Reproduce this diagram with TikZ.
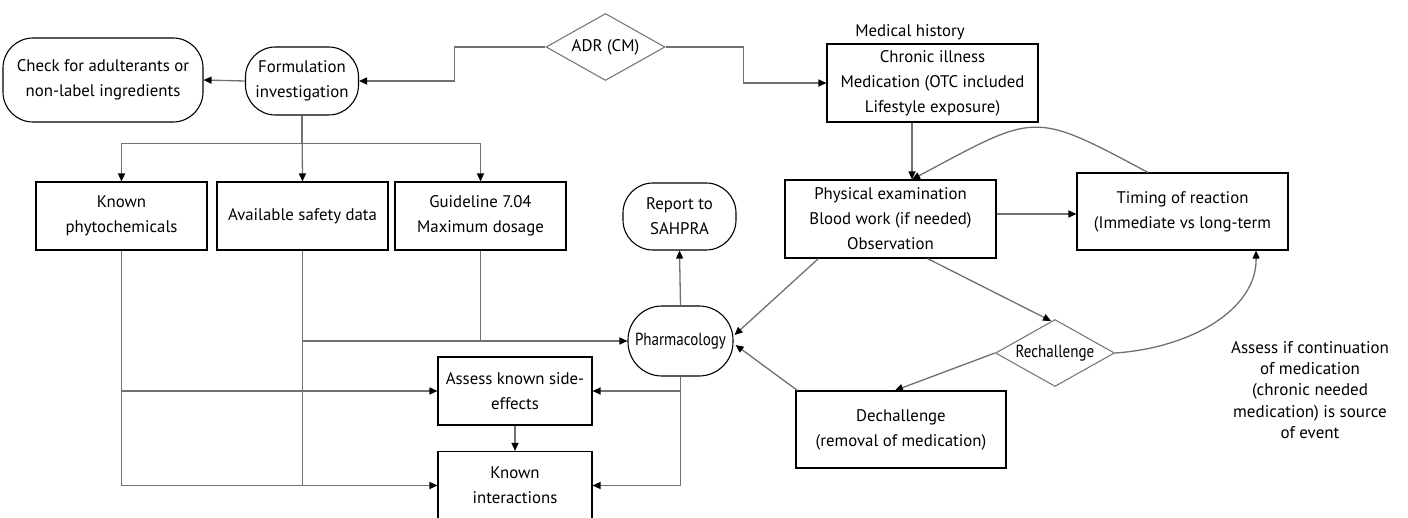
\documentclass[tikz,border=0pt]{standalone}
\usepackage{fontspec}
\setmainfont{PT Sans}
\newfontfamily\narrowf{PT Sans}[FakeStretch=0.86]
\usetikzlibrary{arrows.meta,shapes.geometric,calc}
\definecolor{lncol}{RGB}{112,112,112}
\definecolor{dgcol}{RGB}{120,120,120}
\begin{document}
\begin{tikzpicture}[x=1pt,y=-1pt,
  box/.style={draw=black, line width=1.1pt, align=center, inner sep=0pt,
    font=\fontsize{16.8}{25}\selectfont},
  rbox/.style={box, rounded corners=30pt},
  dia/.style={diamond, draw=dgcol, line width=1.1pt, aspect=1.78, inner sep=0pt,
    minimum width=119, minimum height=67},
  plain/.style={align=center, inner sep=0pt, font=\fontsize{16.8}{25}\selectfont},
  ln/.style={draw=lncol, line width=1.3pt},
  conn/.style={ln, -{Triangle[length=8pt,width=7pt,color=black,fill=black]}}
]
\useasboundingbox (0,0) rectangle (1408,518);

% nodes
\node[rbox, minimum width=200, minimum height=84] (check) at (103,80) {Check for adulterants or\\non-label ingredients};
\node[rbox, minimum width=113, minimum height=68] (form) at (302,81) {Formulation\\investigation};
\node[dia, font=\fontsize{16.8}{25}\selectfont] (adr) at (605.5,47) {ADR (CM)};
\node[plain] (mh) at (910,32) {Medical history};
\node[box, minimum width=211, minimum height=78] (med) at (932.5,83) {Chronic illness\\Medication (OTC included\\Lifestyle exposure)};
\node[box, minimum width=211, minimum height=78] (phys) at (890.5,219) {Physical examination\\Blood work (if needed)\\Observation};
\node[box, minimum width=211, minimum height=77] (timing) at (1182.5,211.5) {Timing of reaction\\(Immediate vs long-term};
\node[rbox, minimum width=113, minimum height=67] (report) at (679.5,216.5) {Report to\\SAHPRA};
\node[rbox, rounded corners=34pt, minimum width=105, minimum height=70, font=\narrowf\fontsize{17.5}{20}\selectfont] (pharm) at (680.5,341) {Pharmacology};
\node[box, minimum width=171, minimum height=68] (phyto) at (121.5,216) {Known\\phytochemicals};
\node[box, minimum width=171, minimum height=68] (safety) at (302.5,216) {Available safety data};
\node[box, minimum width=171, minimum height=68] (guide) at (480.5,216) {Guideline 7.04\\Maximum dosage};
\node[box, minimum width=154, minimum height=68] (assess) at (515,391) {Assess known side-\\effects};
\node[box, minimum width=154, minimum height=68] (inter) at (515,485.5) {Known\\interactions};
\node[dia, font=\narrowf\fontsize{17.5}{20}\selectfont] (rech) at (1055,353) {Rechallenge};
\node[box, minimum width=210, minimum height=77] (dech) at (901,429.5) {Dechallenge\\(removal of medication)};
\node[plain, font=\fontsize{17}{21.3}\selectfont] (note) at (1310,390) {Assess if continuation\\of medication\\(chronic needed\\medication) is source\\of event};

% top connectors
\draw[conn] (adr.west) -- ++(-91,0) |- (form.east);
\draw[conn] (adr.east) -- ++(78,0) |- (med.west);
\draw[conn] (form.west) -- (check.east);
\coordinate (br) at ($(form.south)+(0,28)$);
\draw[conn] (form.south) -- (br) -| (phyto.north);
\draw[conn] (br) -| (guide.north);
\draw[conn] (form.south) -- (safety.north);

% right column
\coordinate (mx) at (912,0);
\coordinate (ty) at (0,214);
\draw[conn] (med.south -| mx) -- (phys.north -| mx);
\draw[conn] (phys.east |- ty) -- (timing.west |- ty);
\draw[conn] ($(timing.north)+(-34.5,0)$) .. controls (1031,110) and (1037,113) .. (phys.north -| mx);

% pharmacology links
\draw[conn] (pharm.north) -- (report.south);
\draw[ln] (phyto.south) -- (phyto.south |- inter.west);
\draw[conn] (phyto.south) |- (assess.west);
\draw[conn] (phyto.south) |- (inter.west);
\draw[ln] (safety.south) -- (safety.south |- inter.west);
\draw[conn] (safety.south) |- (pharm.west);
\draw[ln] (guide.south) -- (guide.south |- pharm.west);
\draw[conn] (pharm.south) |- (assess.east);
\draw[conn] (pharm.south) |- (inter.east);
\draw[conn] (assess.south) -- (inter.north);

% diagonals
\draw[conn] ($(phys.south west)+(34,0)$) -- ($(pharm.east)+(1,-6)$);
\draw[conn] ($(dech.north west)+(2,0)$) -- ($(pharm.east)+(2,4)$);
\draw[conn] ($(phys.south west)+(143,0)$) -- ($(rech.north)+(-4,2)$);
\draw[conn] (rech.west) -- ($(dech.north)+(-6,0)$);
\draw[conn] (rech.east) .. controls (1190,348) and (1257,310) .. ($(timing.south)+(73.5,0)$);
\end{tikzpicture}
\end{document}
